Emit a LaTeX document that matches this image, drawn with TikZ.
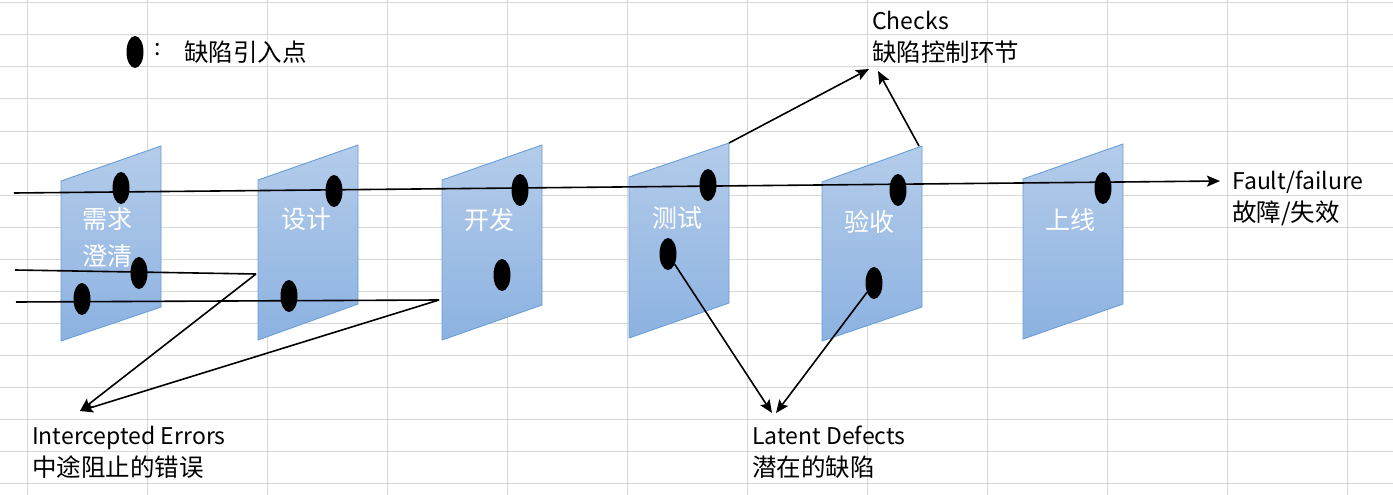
\documentclass[tikz,border=0pt]{standalone}
\usepackage{fontspec}
\setmainfont{Noto Sans CJK SC}
\usetikzlibrary{shapes.geometric,arrows.meta}
\definecolor{gridc}{HTML}{D6D6D6}
\definecolor{ptop}{HTML}{B4CCEA}
\definecolor{pbot}{HTML}{8CB2E1}
\definecolor{pedge}{HTML}{6A9ED8}
\newcommand{\zh}{\fontsize{24.5}{32}\selectfont}
\begin{document}
\begin{tikzpicture}[x=1pt,y=-1pt,
  panel/.style={top color=ptop,bottom color=pbot,draw=pedge,line width=0.9pt},
  plabel/.style={text=white,font=\fontsize{25}{37}\selectfont,align=center,inner sep=0pt},
  dot/.style={ellipse,fill=black,minimum width=17pt,minimum height=32pt,inner sep=0pt},
  lbl/.style={font=\fontsize{23}{32}\selectfont,align=left,inner sep=0pt,anchor=north west},
  conn/.style={line width=1.6pt,black},
  arr/.style={conn,-{Stealth[length=13pt,width=11pt,inset=2.5pt]}}]
\useasboundingbox (0,0) rectangle (1393,495);
\fill[white] (0,0) rectangle (1393,495);
% grid
\foreach \k in {0,...,11} \draw[gridc,line width=1pt] ({27+120*\k},0) -- ({27+120*\k},495);
\foreach \k in {0,...,15} \draw[gridc,line width=1pt] (0,{3+32*\k}) -- (1393,{3+32*\k});
% panels
\shadedraw[panel] (61,181) -- (161,146) -- (161,307) -- (61,341) -- cycle;
\shadedraw[panel] (258,180) -- (358,145) -- (358,304) -- (258,340) -- cycle;
\shadedraw[panel] (442,180) -- (542,145) -- (542,305) -- (442,340) -- cycle;
\shadedraw[panel] (629,177) -- (729,143) -- (729,303) -- (629,338) -- cycle;
\shadedraw[panel] (822,182) -- (922,146) -- (922,307) -- (822,341) -- cycle;
\shadedraw[panel] (1023,179) -- (1123,144) -- (1123,304) -- (1023,339) -- cycle;
\coordinate (p4tr) at (729,143);
\coordinate (p5tr) at (919,146);
% panel labels
\node[plabel] (l1) at (107,238) {需求\\澄清};
\node[plabel] (l2) at (306,219) {设计};
\node[plabel] (l3) at (489,220) {开发};
\node[plabel] (l4) at (677,218) {测试};
\node[plabel] (l5) at (869,222) {验收};
\node[plabel] (l6) at (1070,220) {上线};
% legend
\node[dot] (leg) at (135,52) {};
\node[font=\fontsize{23}{28}\selectfont,inner sep=0pt] (colon) at (158,50) {:};
\node[font=\zh,inner sep=0pt,anchor=west] (legt) at (184,52) {缺陷引入点};
% dots
\node[dot] (d1a) at (121,188) {};
\node[dot] (d2a) at (334,191) {};
\node[dot] (d3a) at (520,190) {};
\node[dot] (d4a) at (708,185) {};
\node[dot] (d5a) at (898,190) {};
\node[dot] (d6a) at (1103,188) {};
\node[dot] (d1b) at (139,273) {};
\node[dot] (d1c) at (82,299) {};
\node[dot] (d2b) at (289,296) {};
\node[dot] (d3b) at (502,275) {};
\node[dot] (d4b) at (668,254) {};
\node[dot] (d5b) at (874,283) {};
% labels
\node[lbl] (checks) at (872,11) {Checks\\{\zh 缺陷控制环节}};
\node[lbl] (fault) at (1232,171) {Fault/failure\\{\zh 故障/失效}};
\node[lbl] (inter) at (32,426) {Intercepted Errors\\{\zh 中途阻止的错误}};
\node[lbl] (latent) at (752,426) {Latent Defects\\{\zh 潜在的缺陷}};
% connector coordinates
\coordinate (s1) at (14,193);
\coordinate (ftip) at (1220,181);
\coordinate (s2) at (15,270);
\coordinate (b2) at (256,274);
\coordinate (s3) at (16,302);
\coordinate (b3) at (439,300);
\coordinate (itip) at (80,411);
\coordinate (ck1) at (869,69);
\coordinate (ck2) at (878,71);
\coordinate (lt1) at (772,413);
\coordinate (lt2) at (776,413);
% connectors
\draw[arr] (s1) -- (ftip);
\draw[conn] (s2) -- (b2);
\draw[conn] (s3) -- (b3);
\draw[arr] (b2) -- (itip);
\draw[arr] (b3) -- (itip);
\draw[arr] (p4tr) -- (ck1);
\draw[arr] (p5tr) -- (ck2);
\draw[arr] (d4b) -- (lt1);
\draw[arr] (d5b) -- (lt2);
\end{tikzpicture}
\end{document}
